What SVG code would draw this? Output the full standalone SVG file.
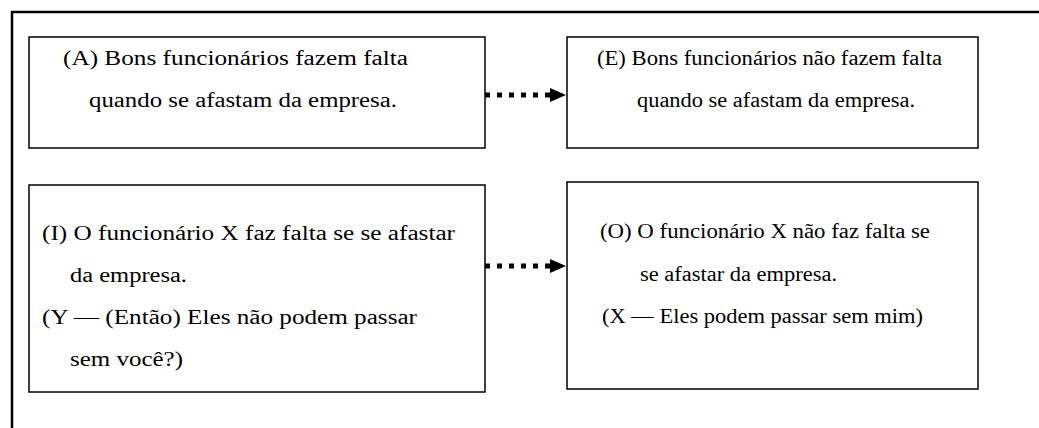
<svg xmlns="http://www.w3.org/2000/svg" width="1039" height="428" viewBox="0 0 1039 428">
  <style>
    .frame { fill: none; stroke: #000; stroke-width: 2.5; }
    .box { fill: #fff; stroke: #000; stroke-width: 1.5; }
    .t { font-family: "Liberation Serif", "Times New Roman", serif; font-size: 20px; fill: #000; }
    .dot { fill: none; stroke: #000; stroke-width: 5; stroke-dasharray: 5 7; }
  </style>
  <defs>
    <marker id="head" markerUnits="userSpaceOnUse" markerWidth="17" markerHeight="16" refX="0" refY="8" orient="auto">
      <path d="M0,1 L16,8 L0,15 Z" fill="#000"/>
    </marker>
  </defs>
  <rect width="1039" height="428" fill="#fff"/>
  <rect class="frame" x="12" y="12" width="1100" height="500"/>

  <g id="node-A">
    <rect class="box" x="29" y="37" width="456" height="111"/>
    <text class="t" x="63" y="65" textLength="345" lengthAdjust="spacingAndGlyphs">(A) Bons funcionários fazem falta</text>
    <text class="t" x="89" y="107" textLength="308" lengthAdjust="spacingAndGlyphs">quando se afastam da empresa.</text>
  </g>

  <g id="node-E">
    <rect class="box" x="567" y="37" width="411" height="111"/>
    <text class="t" x="597" y="65" textLength="345" lengthAdjust="spacingAndGlyphs">(E) Bons funcionários não fazem falta</text>
    <text class="t" x="637" y="107" textLength="278" lengthAdjust="spacingAndGlyphs">quando se afastam da empresa.</text>
  </g>

  <g id="node-I">
    <rect class="box" x="29" y="185" width="456" height="207"/>
    <text class="t" x="42" y="240" textLength="413" lengthAdjust="spacingAndGlyphs">(I) O funcionário X faz falta se se afastar</text>
    <text class="t" x="70" y="282" textLength="117" lengthAdjust="spacingAndGlyphs">da empresa.</text>
    <text class="t" x="42" y="324" textLength="375" lengthAdjust="spacingAndGlyphs">(Y — (Então) Eles não podem passar</text>
    <text class="t" x="70" y="366" textLength="113" lengthAdjust="spacingAndGlyphs">sem você?)</text>
  </g>

  <g id="node-O">
    <rect class="box" x="567" y="182" width="411" height="207"/>
    <text class="t" x="600" y="238" textLength="330" lengthAdjust="spacingAndGlyphs">(O) O funcionário X não faz falta se</text>
    <text class="t" x="640" y="281" textLength="197" lengthAdjust="spacingAndGlyphs">se afastar da empresa.</text>
    <text class="t" x="602" y="323" textLength="321" lengthAdjust="spacingAndGlyphs">(X — Eles podem passar sem mim)</text>
  </g>

  <g id="connectors">
    <line class="dot" x1="485" y1="95" x2="550" y2="95" marker-end="url(#head)"/>
    <line class="dot" x1="485" y1="266" x2="550" y2="266" marker-end="url(#head)"/>
  </g>
</svg>
